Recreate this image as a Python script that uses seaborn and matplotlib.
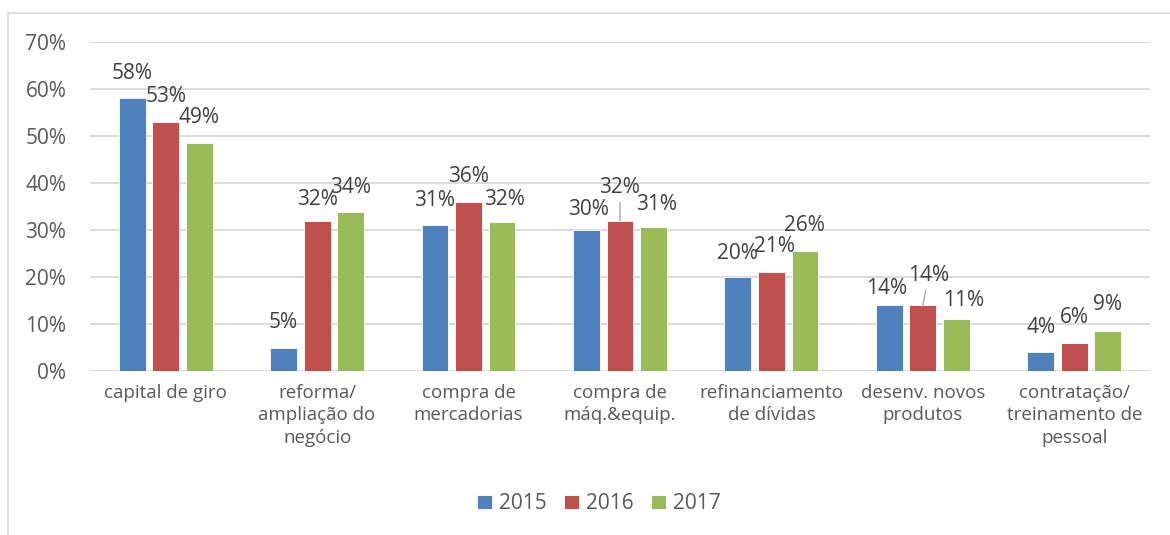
import matplotlib
matplotlib.use("Agg")
import matplotlib.pyplot as plt
import pandas as pd
import seaborn as sns
from matplotlib.patches import Rectangle

categorias = ["capital de giro", "reforma/\nampliação do\nnegócio", "compra de\nmercadorias",
              "compra de\nmáq.&equip.", "refinanciamento\nde dívidas", "desenv. novos\nprodutos",
              "contratação/\ntreinamento de\npessoal"]
anos = ["2015", "2016", "2017"]
v2015 = [58, 5, 31, 30, 20, 14, 4]
v2016 = [53, 32, 36, 32, 21, 14, 6]
v2017 = [48.6, 33.8, 31.8, 30.6, 25.6, 11.1, 8.6]
cores = ["#4F81BD", "#C0504D", "#9BBB59"]

# ajustes manuais dos rótulos (dx, dy em pixels) e quais têm linha de chamada
ajustes = {(1, 1): (0, -4), (2, 2): (2, -3), (3, 0): (2, -4), (3, 1): (0, 8), (3, 2): (3, -2),
           (4, 0): (0, -1), (4, 1): (3, 1), (5, 0): (-3, -8), (5, 1): (6, 5), (5, 2): (7, -7),
           (6, 2): (0, 1)}
chamadas = [(3, 1), (5, 1)]

df = pd.DataFrame({
    "categoria": categorias * 3,
    "ano": [a for a in anos for _ in categorias],
    "valor": v2015 + v2016 + v2017,
})

sns.set_style("white")
plt.rcParams["font.family"] = ["Open Sans", "DejaVu Sans"]

fig = plt.figure(figsize = (11.7, 5.35), dpi = 100)
ax = fig.add_axes([0.0769, 0.3065, 0.906, 0.615])

sns.barplot(data = df, x = "categoria", y = "valor", hue = "ano", palette = cores, saturation = 1,
            width = 0.664, gap = 0.2, ax = ax, edgecolor = "white", linewidth = 0.6)

ax.set_ylim(0, 70)
ax.set_xlim(-0.5, len(categorias) - 0.5)
ax.set_yticks(range(0, 71, 10))
ax.set_yticklabels([f"{t}%" for t in range(0, 71, 10)])
ax.yaxis.grid(True, color = "#d9d9d9", linewidth = 1.3)
ax.set_axisbelow(True)
for s in ax.spines.values():
    s.set_visible(False)
ax.tick_params(axis = "y", length = 0, pad = 17, labelsize = 15, labelcolor = "#595959")
ax.tick_params(axis = "x", length = 0, pad = 9, labelsize = 13.5, labelcolor = "#595959")
for lab in ax.get_xticklabels():
    lab.set_linespacing(1.35)
    lab.set_verticalalignment("top")
ax.set_xlabel("")
ax.set_ylabel("")

for j, cont in enumerate(ax.containers):
    for i, bar in enumerate(cont):
        h = bar.get_height()
        xc = bar.get_x() + bar.get_width() / 2
        dx, dy = ajustes.get((i, j), (0, 0))
        props = None
        if (i, j) in chamadas:
            props = dict(arrowstyle = "-", color = "#a6a6a6", lw = 1, shrinkA = 1, shrinkB = 0)
        ax.annotate(f"{round(h)}%", xy = (xc, h), xytext = (dx, 25 + dy), textcoords = "offset pixels",
                    ha = "center", va = "center", fontsize = 15, color = "#404040",
                    arrowprops = props)

leg = ax.legend(loc = "center", bbox_to_anchor = (0.512, 0.058), bbox_transform = fig.transFigure,
                ncol = 3, frameon = False, fontsize = 15, handlelength = 0.7, handleheight = 0.7,
                handletextpad = 0.35, columnspacing = 0.85, labelcolor = "#595959")

fig.patches.append(Rectangle((8 / 1170, -0.1), 1.2, 1 - 13 / 535 + 0.1, transform = fig.transFigure,
                             fill = False, edgecolor = "#d9d9d9", linewidth = 1.2))

fig.savefig("out.png", dpi = 100)
